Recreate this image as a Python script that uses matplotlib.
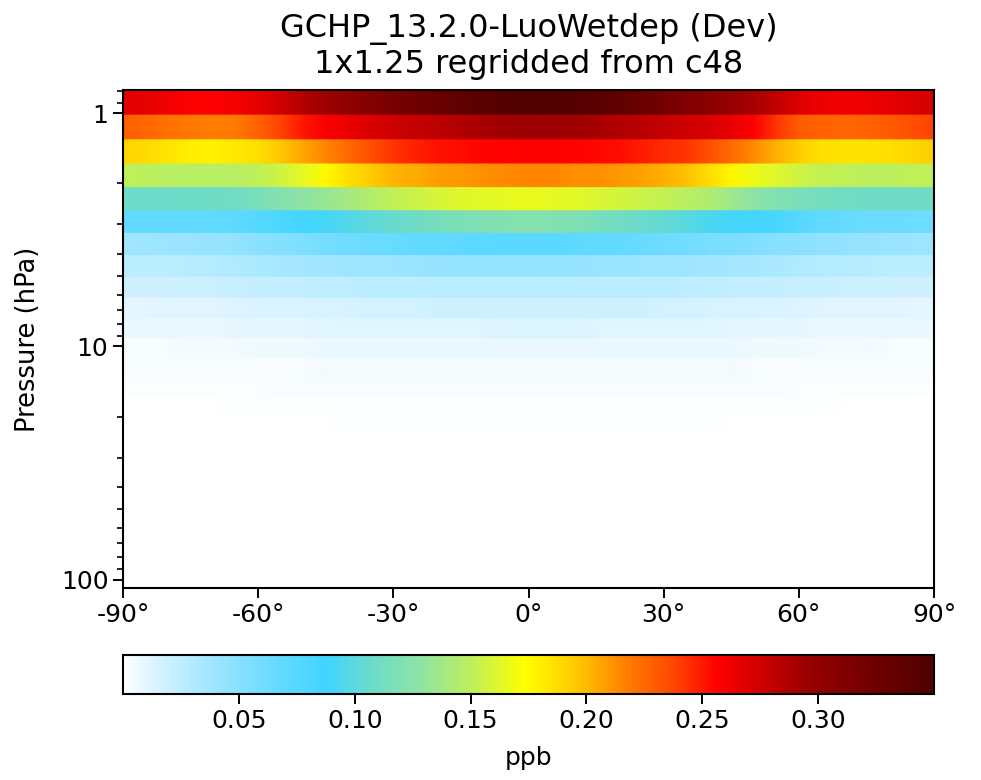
import numpy as np
import matplotlib
matplotlib.use("Agg")
import matplotlib.pyplot as plt
from matplotlib.colors import LinearSegmentedColormap, Normalize
from matplotlib.ticker import FixedLocator, FuncFormatter, FormatStrFormatter, LogLocator, NullFormatter

# ---------------- data ----------------
title_text = "GCHP_13.2.0-LuoWetdep (Dev)\n1x1.25 regridded from c48"
units = "ppb"
lats = list(range(-90, 91, 5))          # 37 latitude points
# GEOS pressure level edges (hPa), top -> bottom
p_edges = [0.7951, 1.0194, 1.3005, 1.6508, 2.0850, 2.6202, 3.2764, 4.0766,
           5.0468, 6.2168, 7.6198, 9.2929, 11.2769, 13.6434, 16.4571, 19.7916,
           23.7304, 28.3678, 33.8100, 40.1754, 47.6439, 56.3879, 66.6034,
           78.5123, 92.3657, 108.663]

lev01 = [0.268, 0.266, 0.262, 0.258, 0.258, 0.260, 0.266, 0.276, 0.287, 0.295, 0.302, 0.309, 0.316,
         0.324, 0.330, 0.336, 0.341, 0.346, 0.349, 0.349, 0.345, 0.341, 0.335, 0.327, 0.321, 0.313,
         0.305, 0.298, 0.290, 0.281, 0.270, 0.263, 0.262, 0.263, 0.266, 0.270, 0.273]
lev02 = [0.229, 0.226, 0.222, 0.219, 0.218, 0.220, 0.227, 0.238, 0.251, 0.259, 0.265, 0.271, 0.275,
         0.279, 0.282, 0.286, 0.290, 0.293, 0.295, 0.294, 0.293, 0.290, 0.287, 0.284, 0.280, 0.276,
         0.272, 0.266, 0.258, 0.242, 0.230, 0.227, 0.226, 0.227, 0.230, 0.234, 0.238]
lev03 = [0.191, 0.188, 0.184, 0.180, 0.179, 0.182, 0.187, 0.196, 0.206, 0.215, 0.225, 0.235, 0.243,
         0.248, 0.252, 0.254, 0.256, 0.257, 0.258, 0.258, 0.257, 0.255, 0.253, 0.250, 0.246, 0.242,
         0.234, 0.225, 0.214, 0.203, 0.193, 0.187, 0.185, 0.185, 0.186, 0.189, 0.193]
lev04 = [0.151, 0.150, 0.149, 0.148, 0.148, 0.149, 0.151, 0.156, 0.165, 0.175, 0.187, 0.195, 0.201,
         0.205, 0.208, 0.210, 0.212, 0.214, 0.215, 0.215, 0.213, 0.212, 0.210, 0.207, 0.203, 0.197,
         0.188, 0.177, 0.167, 0.162, 0.157, 0.153, 0.151, 0.150, 0.150, 0.151, 0.151]
lev05 = [0.109, 0.109, 0.109, 0.109, 0.110, 0.112, 0.116, 0.122, 0.128, 0.133, 0.139, 0.145, 0.151,
         0.155, 0.159, 0.162, 0.164, 0.165, 0.166, 0.165, 0.163, 0.161, 0.158, 0.155, 0.152, 0.149,
         0.144, 0.136, 0.128, 0.121, 0.117, 0.113, 0.111, 0.110, 0.110, 0.110, 0.110]
lev06 = [0.067, 0.067, 0.067, 0.067, 0.068, 0.070, 0.074, 0.080, 0.086, 0.091, 0.097, 0.102, 0.106,
         0.110, 0.114, 0.117, 0.119, 0.121, 0.122, 0.121, 0.119, 0.116, 0.112, 0.108, 0.104, 0.099,
         0.094, 0.090, 0.086, 0.083, 0.075, 0.069, 0.066, 0.064, 0.063, 0.062, 0.061]
lev07 = [0.038, 0.039, 0.040, 0.042, 0.043, 0.045, 0.048, 0.051, 0.054, 0.058, 0.061, 0.063, 0.065,
         0.067, 0.069, 0.070, 0.072, 0.073, 0.073, 0.073, 0.071, 0.069, 0.067, 0.065, 0.062, 0.059,
         0.057, 0.055, 0.052, 0.050, 0.048, 0.046, 0.044, 0.043, 0.042, 0.041, 0.040]
lev08 = [0.026, 0.026, 0.027, 0.028, 0.029, 0.031, 0.033, 0.035, 0.036, 0.038, 0.039, 0.040, 0.041,
         0.042, 0.043, 0.043, 0.044, 0.044, 0.044, 0.043, 0.043, 0.042, 0.042, 0.041, 0.040, 0.039,
         0.038, 0.036, 0.035, 0.033, 0.031, 0.030, 0.029, 0.028, 0.027, 0.027, 0.027]
lev09 = [0.019, 0.019, 0.019, 0.020, 0.020, 0.021, 0.022, 0.023, 0.024, 0.025, 0.025, 0.026, 0.026,
         0.027, 0.027, 0.027, 0.027, 0.027, 0.027, 0.027, 0.027, 0.027, 0.027, 0.026, 0.026, 0.025,
         0.025, 0.024, 0.023, 0.022, 0.021, 0.021, 0.020, 0.020, 0.019, 0.019, 0.019]
lev10 = [0.010, 0.010, 0.011, 0.011, 0.012, 0.013, 0.014, 0.015, 0.015, 0.016, 0.016, 0.017, 0.017,
         0.017, 0.018, 0.018, 0.018, 0.018, 0.018, 0.018, 0.018, 0.018, 0.018, 0.018, 0.017, 0.017,
         0.016, 0.016, 0.015, 0.014, 0.013, 0.012, 0.012, 0.011, 0.011, 0.010, 0.010]
lev11 = [0.007, 0.007, 0.007, 0.008, 0.008, 0.009, 0.009, 0.010, 0.010, 0.011, 0.011, 0.011, 0.012,
         0.012, 0.012, 0.012, 0.012, 0.013, 0.013, 0.013, 0.013, 0.012, 0.012, 0.012, 0.012, 0.011,
         0.011, 0.010, 0.010, 0.009, 0.009, 0.008, 0.008, 0.008, 0.007, 0.007, 0.007]
lev12 = [0.004, 0.004, 0.004, 0.005, 0.005, 0.005, 0.006, 0.006, 0.006, 0.007, 0.007, 0.007, 0.008,
         0.008, 0.008, 0.008, 0.008, 0.008, 0.008, 0.008, 0.008, 0.008, 0.008, 0.008, 0.008, 0.007,
         0.007, 0.007, 0.006, 0.006, 0.006, 0.005, 0.005, 0.005, 0.004, 0.004, 0.004]
lev13 = [0.003, 0.003, 0.003, 0.003, 0.003, 0.004, 0.004, 0.004, 0.004, 0.005, 0.005, 0.005, 0.005,
         0.005, 0.005, 0.005, 0.005, 0.005, 0.005, 0.005, 0.005, 0.005, 0.005, 0.005, 0.005, 0.005,
         0.005, 0.005, 0.004, 0.004, 0.004, 0.004, 0.003, 0.003, 0.003, 0.003, 0.003]
lev14 = [0.0020, 0.0020, 0.0020, 0.0021, 0.0022, 0.0024, 0.0026, 0.0028, 0.0030, 0.0033, 0.0035,
         0.0036, 0.0037, 0.0038, 0.0039, 0.0040, 0.0040, 0.0040, 0.0040, 0.0040, 0.0040, 0.0040,
         0.0039, 0.0038, 0.0037, 0.0036, 0.0035, 0.0033, 0.0030, 0.0028, 0.0026, 0.0024, 0.0022,
         0.0021, 0.0020, 0.0020, 0.0020]
lev15 = [0.0011, 0.0011, 0.0011, 0.0012, 0.0013, 0.0014, 0.0015, 0.0017, 0.0018, 0.0020, 0.0021,
         0.0022, 0.0023, 0.0024, 0.0025, 0.0025, 0.0025, 0.0025, 0.0025, 0.0025, 0.0025, 0.0025,
         0.0025, 0.0024, 0.0024, 0.0023, 0.0022, 0.0020, 0.0018, 0.0017, 0.0015, 0.0014, 0.0013,
         0.0012, 0.0011, 0.0011, 0.0011]
lev16 = [0.0007, 0.0007, 0.0007, 0.0008, 0.0008, 0.0009, 0.0010, 0.0011, 0.0012, 0.0013, 0.0014,
         0.0014, 0.0015, 0.0015, 0.0015, 0.0015, 0.0015, 0.0015, 0.0015, 0.0015, 0.0015, 0.0015,
         0.0015, 0.0015, 0.0015, 0.0014, 0.0014, 0.0013, 0.0012, 0.0011, 0.0010, 0.0009, 0.0008,
         0.0008, 0.0007, 0.0007, 0.0007]
lev17 = [0.0004, 0.0004, 0.0004, 0.0005, 0.0005, 0.0006, 0.0007, 0.0008, 0.0009, 0.0010, 0.0011,
         0.0011, 0.0012, 0.0012, 0.0012, 0.0012, 0.0011, 0.0011, 0.0011, 0.0011, 0.0011, 0.0012,
         0.0012, 0.0012, 0.0012, 0.0011, 0.0011, 0.0010, 0.0009, 0.0008, 0.0007, 0.0006, 0.0005,
         0.0005, 0.0004, 0.0004, 0.0004]
lev18 = [0.0003, 0.0003, 0.0003, 0.0003, 0.0003, 0.0004, 0.0004, 0.0005, 0.0005, 0.0006, 0.0006,
         0.0007, 0.0007, 0.0007, 0.0007, 0.0007, 0.0007, 0.0007, 0.0007, 0.0007, 0.0007, 0.0007,
         0.0007, 0.0007, 0.0007, 0.0007, 0.0006, 0.0006, 0.0005, 0.0005, 0.0004, 0.0004, 0.0003,
         0.0003, 0.0003, 0.0003, 0.0003]
lev19 = [0.0002] * 8 + [0.0003] * 21 + [0.0002] * 8
lev20 = [0.0002] * 37
lev21 = [0.0001] * 37
lev22 = [0.0001] * 37
lev23 = [0.0001] * 37
lev24 = [0.0001] * 37
lev25 = [0.0001] * 37
levels = [lev01, lev02, lev03, lev04, lev05, lev06, lev07, lev08, lev09, lev10,
          lev11, lev12, lev13, lev14, lev15, lev16, lev17, lev18, lev19, lev20,
          lev21, lev22, lev23, lev24, lev25]

cbar_ticks = [0.05, 0.10, 0.15, 0.20, 0.25, 0.30]
vmin, vmax = 0.0, 0.350
xticks = [-90, -60, -30, 0, 30, 60, 90]

# ---------------- colormap (white-blue-green-yellow-red) ----------------
cm_nodes = [
    (0.000, (255, 255, 255)), (0.030, (225, 245, 255)), (0.070, (190, 238, 255)),
    (0.115, (155, 228, 255)), (0.175, (110, 220, 255)), (0.250, (64, 212, 255)),
    (0.310, (110, 220, 200)), (0.370, (145, 228, 160)), (0.430, (190, 240, 90)),
    (0.495, (255, 255, 0)), (0.560, (255, 200, 0)), (0.620, (255, 128, 0)),
    (0.680, (255, 70, 0)), (0.735, (255, 0, 0)), (0.790, (205, 0, 0)),
    (0.850, (150, 0, 0)), (0.930, (110, 0, 0)), (1.000, (80, 0, 0)),
]
cmap = LinearSegmentedColormap.from_list(
    "WhBlGrYlRd", [(f, tuple(c / 255 for c in col)) for f, col in cm_nodes], N=256)

# ---------------- build mesh (flat in pressure, gouraud in latitude) ----------------
nlev = len(levels)
X = np.zeros((2 * nlev, len(lats)))
Y = np.zeros((2 * nlev, len(lats)))
C = np.zeros((2 * nlev, len(lats)))
for k in range(nlev):
    for j in (0, 1):
        X[2 * k + j] = lats
        Y[2 * k + j] = p_edges[k + j]
        C[2 * k + j] = levels[k]

# ---------------- figure ----------------
fig = plt.figure(figsize=(9.81, 7.80), dpi=100)
ax = fig.add_axes([123 / 981, 1 - 588 / 780, (934 - 123) / 981, (588 - 90) / 780])
norm = Normalize(vmin=vmin, vmax=vmax)
mesh = ax.pcolormesh(X, Y, C, cmap=cmap, norm=norm, shading="gouraud", rasterized=True)

ax.set_yscale("log")
ax.set_ylim(p_edges[-1], p_edges[0])
ax.set_xlim(-90, 90)
ax.set_xticks(xticks)
ax.xaxis.set_major_formatter(FuncFormatter(lambda v, p: f"{int(v)}°"))
ax.yaxis.set_major_locator(FixedLocator([1, 10, 100]))
ax.yaxis.set_major_formatter(FuncFormatter(lambda v, p: f"{int(v)}"))
ax.yaxis.set_minor_locator(LogLocator(base=10, subs=np.arange(2, 10), numticks=20))
ax.yaxis.set_minor_formatter(NullFormatter())
ax.set_ylabel("Pressure (hPa)", fontsize=18.5, labelpad=14)
ax.tick_params(axis="both", which="major", labelsize=18, length=7, width=1.4)
ax.tick_params(axis="y", which="minor", length=4, width=1.2)
for s in ax.spines.values():
    s.set_linewidth(1.5)
ax.set_title(title_text, fontsize=23, pad=12, linespacing=1.2)

cax = fig.add_axes([123 / 981, 1 - 694 / 780, (934 - 123) / 981, 39 / 780])
cb = fig.colorbar(mesh, cax=cax, orientation="horizontal")
cb.set_ticks(cbar_ticks)
cb.ax.xaxis.set_major_formatter(FormatStrFormatter("%.2f"))
cb.ax.tick_params(labelsize=18, length=7, width=1.4)
cb.outline.set_linewidth(1.5)
cb.set_label(units, fontsize=18, labelpad=10)

fig.savefig("out.png", dpi=100)
